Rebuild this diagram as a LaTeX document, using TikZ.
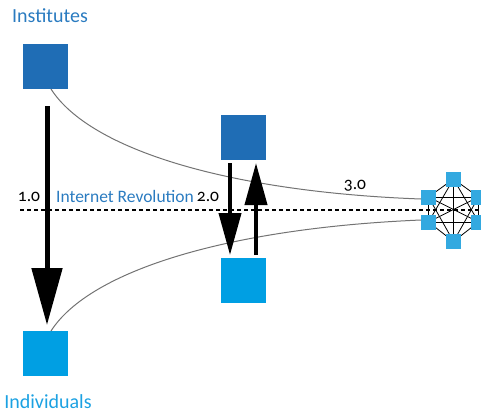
\documentclass[tikz,border=0pt]{standalone}
\usepackage{fontspec}
\setmainfont[Numbers=OldStyle]{Carlito}
\usetikzlibrary{arrows.meta}
\definecolor{darkblue}{HTML}{1F6DB5}
\definecolor{lightblue}{HTML}{009FE3}
\definecolor{netblue}{HTML}{33A9E0}
\definecolor{txtdark}{HTML}{2A7BC0}
\definecolor{txtlight}{HTML}{1BA1E2}
\tikzset{
  bigsq/.style={minimum size=45pt, inner sep=0pt, outer sep=0pt},
  netnode/.style={fill=netblue, minimum size=15pt, inner sep=0pt, outer sep=0pt},
  netedge/.style={black, line width=0.8pt},
  curveline/.style={draw=black!55, line width=1pt},
  bigarrow/.style={line width=5pt, -{Triangle[width=30pt,length=57pt]}},
  midarrow/.style={line width=4pt, -{Triangle[width=22pt,length=42pt]}},
  lbl/.style={font=\fontsize{17.5}{20}\selectfont, inner sep=0pt}
}
\begin{document}
\begin{tikzpicture}[x=1pt,y=-1pt]
\useasboundingbox (0,0) rectangle (481,413);
% dashed line
\coordinate (dl) at (20,210);
\coordinate (dr) at (481,210);
\draw[dashed, dash pattern=on 4pt off 3pt, line width=1.2pt] (dl) -- (dr);
% big squares
\node[bigsq, fill=darkblue] (inst) at (45.5,66.5) {};
\node[bigsq, fill=lightblue] (indiv) at (45.5,353.5) {};
\node[bigsq, fill=darkblue] (mtop) at (243.5,137.5) {};
\node[bigsq, fill=lightblue] (mbot) at (243.5,280.5) {};
% network
\node[netnode] (n1) at (453.5,179) {};
\node[netnode] (n2) at (428.5,197) {};
\node[netnode] (n3) at (428.5,222) {};
\node[netnode] (n4) at (453.5,241.5) {};
\node[netnode] (n5) at (478.5,222) {};
\node[netnode] (n6) at (478.5,197) {};
\foreach \a/\b in {n1/n2,n1/n3,n1/n4,n1/n5,n1/n6,n2/n3,n2/n4,n2/n5,n2/n6,n3/n4,n3/n5,n3/n6,n4/n5,n4/n6,n5/n6}
  \draw[netedge] (\a.center) -- (\b.center);
\foreach \n in {n1,n2,n3,n4,n5,n6}
  \fill[netblue] (\n.south west) rectangle (\n.north east);
% curves
\draw[curveline] ([xshift=5.5pt]inst.south) .. controls (90,150) and (230,192) .. ([yshift=-2pt]n2.west);
\draw[curveline] ([xshift=5.5pt]indiv.north) .. controls (90,270) and (230,228) .. ([yshift=2pt]n3.west);
% arrows
\draw[bigarrow] ([xshift=1.5pt,yshift=-17pt]inst.south) -- ([xshift=1.5pt,yshift=6pt]indiv.north);
\draw[midarrow] ([xshift=-13.5pt,yshift=-3pt]mtop.south) -- ([xshift=-13.5pt,yshift=3pt]mbot.north);
\draw[midarrow] ([xshift=12.5pt,yshift=3pt]mbot.north) -- ([xshift=12.5pt,yshift=-3pt]mtop.south);
% labels
\node[lbl, text=txtdark, font=\fontsize{20}{24}\selectfont] (tinst) at (50,16) {Institutes};
\node[lbl, text=txtlight, font=\fontsize{20}{24}\selectfont] (tindiv) at (48,402) {Individuals};
\node[lbl] (l1) at (29,197) {1.0};
\node[lbl, text=txtdark] (lir) at (125,196) {Internet Revolution};
\node[lbl] (l2) at (208,197) {2.0};
\node[lbl] (l3) at (355,186) {3.0};
\end{tikzpicture}
\end{document}
